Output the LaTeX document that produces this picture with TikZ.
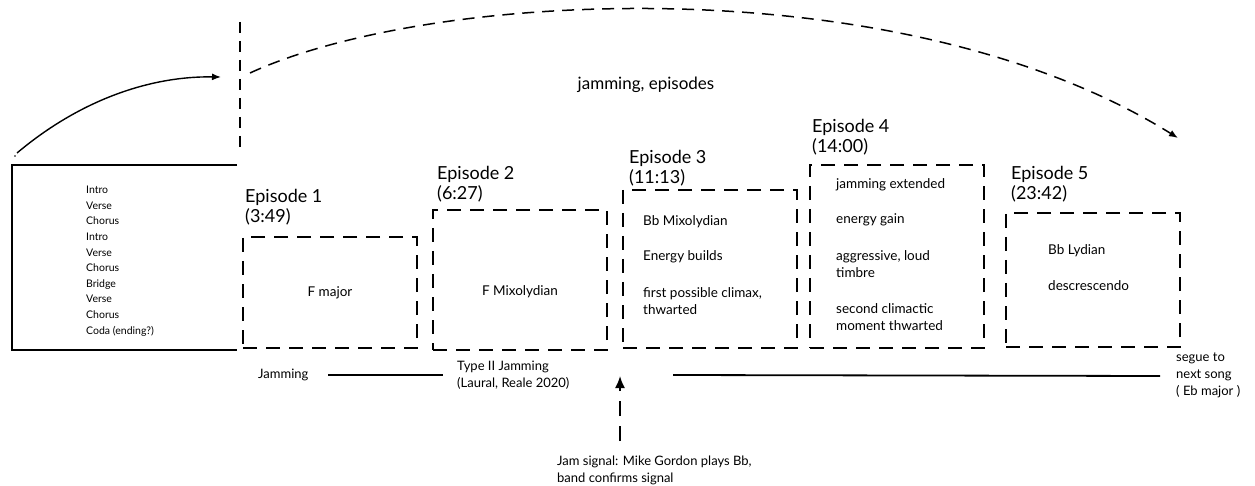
\documentclass[tikz,border=0pt]{standalone}
\usepackage{fontspec}
\setmainfont{Lato}
\usetikzlibrary{arrows.meta}
\tikzset{
  epbox/.style={draw, line width=2.2pt, dash pattern=on 14pt off 9pt, minimum width=174pt, inner sep=0pt},
  eptitle/.style={anchor=west, font=\fontsize{18}{20}\selectfont, align=left, inner sep=0pt},
  boxtxt/.style={anchor=west, font=\fontsize{13.5}{17}\selectfont, align=left, inner sep=0pt},
  smalltxt/.style={anchor=west, font=\fontsize{13}{17}\selectfont, align=left, inner sep=0pt},
  formtxt/.style={anchor=north west, font=\fontsize{10.5}{15.6}\selectfont, align=left, inner sep=0pt},
  tip/.style={-{Latex[length=9pt,width=7pt]}},
  bigtip/.style={-{Latex[length=12pt,width=10pt]}},
  timeline/.style={line width=1.8pt}
}
\begin{document}
\begin{tikzpicture}[x=1pt,y=-1pt]
\useasboundingbox (0,0) rectangle (1255,486);
% song form box (open on the right)
\coordinate (sfTR) at (237,165);
\coordinate (sfBR) at (237,350);
\draw[line width=1.8pt] (sfTR) -| (12,350) -- (sfBR);
\node[formtxt] (form) at (86,186) {Intro\\Verse\\Chorus\\Intro\\Verse\\Chorus\\Bridge\\Verse\\Chorus\\Coda (ending?)};
% solid curved arrow
\coordinate (cstart) at (17,153);
\coordinate (cend) at (221,77);
\fill (15,156) circle (0.8pt);
\draw[line width=1.4pt, tip] (cstart) .. controls (80,100) and (150,76) .. (cend);
% vertical dashed divider
\coordinate (vtop) at (240,22);
\coordinate (vbot) at (240,152);
\draw[line width=1.5pt, dash pattern=on 11pt off 8pt] (vtop) -- (vbot);
% big dashed arc
\coordinate (astart) at (250,73);
\coordinate (aend) at (1178,138);
\draw[line width=1.5pt, dash pattern=on 12pt off 8pt, tip] (astart) .. controls (430,-10) and (900,-35) .. (aend);
\node[anchor=center, font=\fontsize{17}{20}\selectfont] (jam) at (646,85) {jamming, episodes};
% episode boxes
\node[epbox, minimum height=111pt] (b1) at (330,292.5) {};
\node[epbox, minimum height=140pt] (b2) at (520,280) {};
\node[epbox, minimum height=158pt] (b3) at (710,269) {};
\node[epbox, minimum height=183pt] (b4) at (897,256.5) {};
\node[epbox, minimum height=134pt] (b5) at (1093,280) {};
% titles
\node[eptitle] (t1) at (245,207) {Episode 1\\(3:49)};
\node[eptitle] (t2) at (437,184) {Episode 2\\(6:27)};
\node[eptitle] (t3) at (629,168) {Episode 3\\(11:13)};
\node[eptitle] (t4) at (812,137) {Episode 4\\(14:00)};
\node[eptitle] (t5) at (1011,184) {Episode 5\\(23:42)};
% box contents
\node[anchor=center, font=\fontsize{13.5}{17}\selectfont] (c1) at (b1) {F major};
\node[anchor=center, font=\fontsize{13.5}{17}\selectfont] (c2) at (520,292) {F Mixolydian};
\node[boxtxt] (c3a) at (643,222) {Bb Mixolydian};
\node[boxtxt] (c3b) at (643,257) {Energy builds};
\node[boxtxt] (c3c) at (643,301) {first possible climax,\\thwarted};
\node[boxtxt] (c4a) at (836,185) {jamming extended};
\node[boxtxt] (c4b) at (836,220) {energy gain};
\node[boxtxt] (c4c) at (836,264) {aggressive, loud\\timbre};
\node[boxtxt] (c4d) at (836,317) {second climactic\\moment thwarted};
\node[boxtxt] (c5a) at (1048,251) {Bb Lydian};
\node[boxtxt] (c5b) at (1048,286) {descrescendo};
% bottom timeline
\node[smalltxt] (jl) at (258,375) {Jamming};
\node[smalltxt] (t2j) at (457,375) {Type II Jamming\\(Laural, Reale 2020)};
\node[smalltxt] (seg) at (1176,375) {segue to\\next song\\( Eb major )};
\coordinate (l1a) at (328,375);
\coordinate (l1b) at (443,375);
\coordinate (l2a) at (673,375);
\coordinate (l2b) at (1160,376);
\draw[timeline] (l1a) -- (l1b);
\draw[timeline] (l2a) -- (l2b);
% jam signal
\node[smalltxt] (sig) at (557,470) {Jam signal: Mike Gordon plays Bb,\\band confirms signal};
\coordinate (sigbot) at (620,441);
\coordinate (sigtop) at (620,376);
\draw[line width=1.8pt, dash pattern=on 15pt off 10pt, bigtip] (sigbot) -- (sigtop);
\end{tikzpicture}
\end{document}
